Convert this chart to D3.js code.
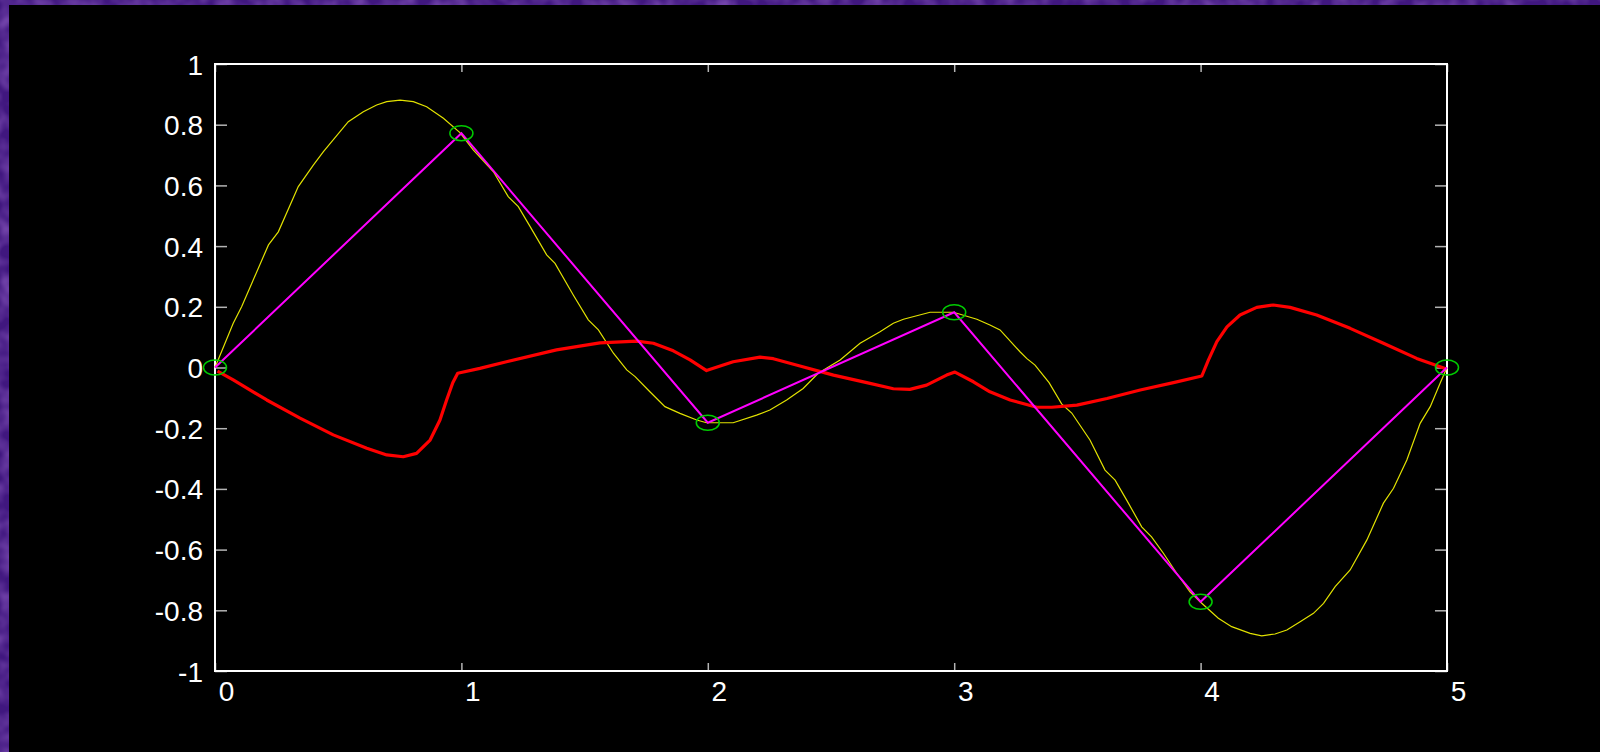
<!DOCTYPE html>
<html>
<head>
<meta charset="utf-8">
<script src="https://cdn.jsdelivr.net/npm/d3@7"></script>
<style>
  html, body { margin: 0; padding: 0; background: #46198a; overflow: hidden; }
  svg { display: block; }
  .tick text { font-family: "Liberation Sans", Arial, sans-serif; font-size: 28px; fill: #fff; }
  .tick line { stroke: #b4b4b4; stroke-width: 1.5; }
</style>
</head>
<body>
<svg id="chart"></svg>
<script>
// tick values
const xTicks = [0, 1, 2, 3, 4, 5];
const yTicks = [-1, -0.8, -0.6, -0.4, -0.2, 0, 0.2, 0.4, 0.6, 0.8, 1];

// sample points (circles + magenta polyline)
const knotX = [0, 1, 2, 3, 4, 5];
const knotY = [0, 0.772, -0.182, 0.182, -0.772, 0];

// yellow curve
const curveX = [0, 0.074, 0.108, 0.149, 0.217, 0.257, 0.338, 0.399, 0.440, 0.541, 0.602, 0.656, 0.697, 0.751, 0.805, 0.859, 0.927, 0.994,
  1.048, 1.130, 1.190, 1.231, 1.279, 1.346, 1.380, 1.454, 1.515, 1.556, 1.617, 1.671, 1.705, 1.765, 1.826, 1.887, 1.955, 1.995,
  2.103, 2.198, 2.252, 2.320, 2.387, 2.448, 2.537, 2.618, 2.699, 2.753, 2.794, 2.902, 2.997,
  3.092, 3.145, 3.186, 3.267, 3.294, 3.328, 3.385, 3.436, 3.477, 3.551, 3.612, 3.653, 3.700, 3.761, 3.801, 3.849, 3.903, 3.957, 3.998,
  4.072, 4.126, 4.201, 4.248, 4.302, 4.350, 4.404, 4.458, 4.499, 4.546, 4.607, 4.675, 4.742, 4.783, 4.837, 4.891, 4.932, 4.972, 5];
const curveY = [0, 0.146, 0.200, 0.277, 0.404, 0.447, 0.596, 0.667, 0.711, 0.810, 0.843, 0.865, 0.876, 0.881, 0.876, 0.859, 0.821, 0.774,
  0.717, 0.645, 0.563, 0.530, 0.464, 0.371, 0.343, 0.239, 0.157, 0.124, 0.047, -0.008, -0.030, -0.080, -0.129, -0.151, -0.173, -0.182,
  -0.182, -0.157, -0.140, -0.107, -0.069, -0.019, 0.025, 0.080, 0.118, 0.146, 0.159, 0.182, 0.182,
  0.159, 0.140, 0.124, 0.052, 0.030, 0.008, -0.050, -0.120, -0.150, -0.239, -0.338, -0.371, -0.437, -0.525, -0.558, -0.612, -0.678, -0.739, -0.772,
  -0.826, -0.854, -0.876, -0.884, -0.878, -0.865, -0.838, -0.810, -0.777, -0.722, -0.667, -0.568, -0.447, -0.398, -0.305, -0.184, -0.129, -0.052, 0];

// red curve
const errX = [0.01, 0.074, 0.210, 0.345, 0.480, 0.616, 0.697, 0.764, 0.818, 0.873, 0.913, 0.940, 0.965, 0.985,
  1.075, 1.183, 1.386, 1.562, 1.711, 1.779, 1.860, 1.928, 1.995, 2.010,
  2.103, 2.212, 2.266, 2.374, 2.510, 2.645, 2.753, 2.820, 2.888, 2.969, 3.003,
  3.078, 3.145, 3.227, 3.335, 3.396, 3.498, 3.620, 3.755, 3.890, 4.005,
  4.032, 4.066, 4.107, 4.160, 4.228, 4.295, 4.363, 4.471, 4.607, 4.742, 4.877, 4.995];
const errY = [-0.012, -0.041, -0.107, -0.167, -0.222, -0.266, -0.288, -0.294, -0.283, -0.239, -0.173, -0.107, -0.050, -0.019,
  -0.003, 0.019, 0.058, 0.081, 0.087, 0.080, 0.055, 0.025, -0.010, -0.006,
  0.019, 0.034, 0.029, 0.005, -0.025, -0.050, -0.070, -0.072, -0.058, -0.025, -0.015,
  -0.047, -0.080, -0.107, -0.131, -0.131, -0.124, -0.102, -0.074, -0.050, -0.028,
  0.025, 0.085, 0.134, 0.173, 0.198, 0.206, 0.198, 0.173, 0.129, 0.080, 0.030, -0.004];

const config = {
  width: 1600,
  height: 752,
  frame: {left: 9, top: 5},
  margin: {top: 64, right: 153, bottom: 81, left: 215}
};

const svg = d3.select('#chart')
    .attr('width', config.width)
    .attr('height', config.height);

// soft mottled purple border texture
const filter = svg.append('defs').append('filter')
    .attr('id', 'mottle')
    .attr('x', 0).attr('y', 0).attr('width', '100%').attr('height', '100%');
filter.append('feTurbulence')
    .attr('type', 'fractalNoise')
    .attr('baseFrequency', 0.06)
    .attr('numOctaves', 2)
    .attr('seed', 3);
filter.append('feColorMatrix')
    .attr('type', 'matrix')
    .attr('values', '0 0 0 0 0.40  0 0 0 0 0.18  0 0 0 0 0.70  0 0 0 0.9 -0.3');

svg.append('rect')
    .attr('width', config.width)
    .attr('height', config.height)
    .attr('fill', '#40177f');
svg.append('rect')
    .attr('width', config.width)
    .attr('height', config.height)
    .attr('filter', 'url(#mottle)');

// black panel inside the purple border
svg.append('rect')
    .attr('x', config.frame.left)
    .attr('y', config.frame.top)
    .attr('width', config.width - config.frame.left)
    .attr('height', config.height - config.frame.top)
    .attr('fill', '#000');

const w = config.width - config.margin.left - config.margin.right;
const h = config.height - config.margin.top - config.margin.bottom;

const g = svg.append('g')
    .attr('transform', `translate(${config.margin.left},${config.margin.top})`);

const xScale = d3.scaleLinear().domain([0, 5]).range([0, w]);
const yScale = d3.scaleLinear().domain([-1, 1]).range([h, 0]);

const fmt = d => String(d);

// axes with inward ticks
g.append('g')
    .attr('transform', `translate(0,${h})`)
    .call(d3.axisBottom(xScale).tickValues(xTicks).tickSize(-8).tickPadding(10).tickFormat(fmt))
    .call(a => a.select('.domain').remove())
    .call(a => a.selectAll('text').attr('dx', 11));

g.append('g')
    .call(d3.axisTop(xScale).tickValues(xTicks).tickSize(-8).tickFormat(''))
    .call(a => a.select('.domain').remove());

g.append('g')
    .call(d3.axisLeft(yScale).tickValues(yTicks).tickSize(-12).tickPadding(12).tickFormat(fmt))
    .call(a => a.select('.domain').remove())
    .call(a => a.selectAll('text').attr('dy', '0.36em'));

g.append('g')
    .attr('transform', `translate(${w},0)`)
    .call(d3.axisRight(yScale).tickValues(yTicks).tickSize(-12).tickFormat(''))
    .call(a => a.select('.domain').remove());

// frame
g.append('rect')
    .attr('width', w)
    .attr('height', h)
    .attr('fill', 'none')
    .attr('stroke', '#fff')
    .attr('stroke-width', 2);

const line = d3.line()
    .x(d => xScale(d[0]))
    .y(d => yScale(d[1]));

const curve = curveX.map((x, i) => [x, curveY[i]]);
const err = errX.map((x, i) => [x, errY[i]]);
const knots = knotX.map((x, i) => [x, knotY[i]]);

g.append('path')
    .datum(curve)
    .attr('d', line)
    .attr('fill', 'none')
    .attr('stroke', '#e2e200')
    .attr('stroke-width', 1.2);

g.append('path')
    .datum(err)
    .attr('d', line)
    .attr('fill', 'none')
    .attr('stroke', '#ff0000')
    .attr('stroke-width', 3.2)
    .attr('stroke-linejoin', 'round');

g.append('path')
    .datum(knots)
    .attr('d', line)
    .attr('fill', 'none')
    .attr('stroke', '#ff00ff')
    .attr('stroke-width', 2);

g.selectAll('.knot')
    .data(knots)
    .join('ellipse')
    .attr('class', 'knot')
    .attr('cx', d => xScale(d[0]))
    .attr('cy', d => yScale(d[1]))
    .attr('rx', 11.5)
    .attr('ry', 7.5)
    .attr('fill', 'none')
    .attr('stroke', '#00cc00')
    .attr('stroke-width', 1.5);
</script>
</body>
</html>
